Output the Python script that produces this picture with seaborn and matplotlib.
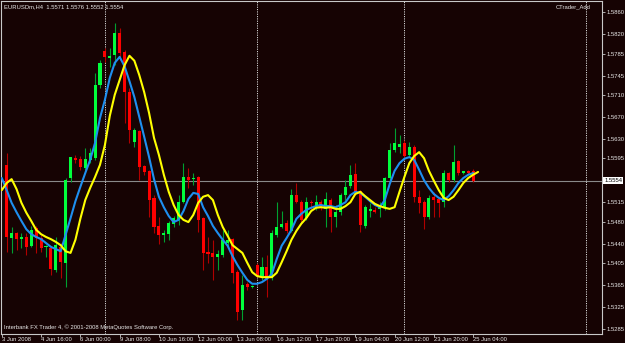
import matplotlib
matplotlib.use("Agg")
import matplotlib.pyplot as plt
import matplotlib.transforms as mtransforms
import seaborn as sns
import numpy as np
import pandas as pd

# ---------------- data (EURUSDm, H4) ----------------
opens = [1.5583, 1.5450, 1.5459, 1.5448, 1.5452, 1.5436, 1.5468, 1.5450, 1.5433, 1.5432,
         1.5392, 1.5434, 1.5405, 1.5559, 1.5595, 1.5594, 1.5577, 1.5592, 1.5595, 1.5728,
         1.5790, 1.5777, 1.5782, 1.5822, 1.5788, 1.5715, 1.5625, 1.5645, 1.5581, 1.5572,
         1.5523, 1.5472, 1.5456, 1.5457, 1.5475, 1.5483, 1.5515, 1.5561, 1.5557, 1.5561,
         1.5486, 1.5425, 1.5423, 1.5416, 1.5419, 1.5441, 1.5448, 1.5388, 1.5319, 1.5367,
         1.5361, 1.5401, 1.5381, 1.5398, 1.5377, 1.5456, 1.5470, 1.5477, 1.5463, 1.5528,
         1.5515, 1.5486, 1.5515, 1.5508, 1.5515, 1.5503, 1.5519, 1.5488, 1.5497, 1.5528,
         1.5545, 1.5566, 1.5535, 1.5472, 1.5499, 1.5501, 1.5503, 1.5504, 1.5559, 1.5610,
         1.5615, 1.5623, 1.5601, 1.5615, 1.5524, 1.5515, 1.5488, 1.5524, 1.5521, 1.5515,
         1.5568, 1.5555, 1.5590, 1.5568, 1.5572, 1.5571]
highs = [1.5604, 1.5470, 1.5461, 1.5459, 1.5459, 1.5472, 1.5472, 1.5456, 1.5437, 1.5434,
         1.5452, 1.5441, 1.5559, 1.5597, 1.5601, 1.5599, 1.5614, 1.5614, 1.5750, 1.5773,
         1.5795, 1.5795, 1.5841, 1.5831, 1.5792, 1.5722, 1.5650, 1.5646, 1.5583, 1.5574,
         1.5528, 1.5488, 1.5465, 1.5481, 1.5490, 1.5528, 1.5586, 1.5577, 1.5568, 1.5563,
         1.5488, 1.5452, 1.5447, 1.5428, 1.5465, 1.5465, 1.5450, 1.5392, 1.5383, 1.5370,
         1.5365, 1.5405, 1.5416, 1.5419, 1.5465, 1.5515, 1.5499, 1.5483, 1.5539, 1.5550,
         1.5519, 1.5524, 1.5519, 1.5528, 1.5519, 1.5534, 1.5523, 1.5510, 1.5532, 1.5555,
         1.5583, 1.5586, 1.5537, 1.5510, 1.5514, 1.5506, 1.5515, 1.5561, 1.5623, 1.5650,
         1.5637, 1.5628, 1.5625, 1.5619, 1.5537, 1.5519, 1.5528, 1.5534, 1.5523, 1.5574,
         1.5570, 1.5619, 1.5592, 1.5572, 1.5574, 1.5576]
lows = [1.5425, 1.5423, 1.5428, 1.5432, 1.5419, 1.5434, 1.5423, 1.5425, 1.5416, 1.5383,
        1.5388, 1.5377, 1.5361, 1.5552, 1.5586, 1.5574, 1.5574, 1.5586, 1.5592, 1.5722,
        1.5770, 1.5761, 1.5764, 1.5773, 1.5659, 1.5623, 1.5615, 1.5555, 1.5565, 1.5488,
        1.5459, 1.5439, 1.5443, 1.5447, 1.5470, 1.5474, 1.5514, 1.5541, 1.5546, 1.5461,
        1.5392, 1.5405, 1.5374, 1.5392, 1.5416, 1.5434, 1.5368, 1.5301, 1.5301, 1.5356,
        1.5359, 1.5380, 1.5374, 1.5343, 1.5374, 1.5452, 1.5468, 1.5459, 1.5461, 1.5514,
        1.5479, 1.5483, 1.5501, 1.5501, 1.5501, 1.5470, 1.5461, 1.5470, 1.5492, 1.5519,
        1.5541, 1.5528, 1.5461, 1.5468, 1.5488, 1.5495, 1.5488, 1.5501, 1.5555, 1.5606,
        1.5604, 1.5597, 1.5597, 1.5515, 1.5495, 1.5466, 1.5485, 1.5488, 1.5488, 1.5506,
        1.5552, 1.5552, 1.5565, 1.5566, 1.5566, 1.5552]
closes = [1.5452, 1.5459, 1.5448, 1.5452, 1.5434, 1.5465, 1.5450, 1.5432, 1.5436, 1.5394,
          1.5437, 1.5407, 1.5555, 1.5597, 1.5592, 1.5579, 1.5594, 1.5604, 1.5728, 1.5768,
          1.5779, 1.5781, 1.5822, 1.5786, 1.5715, 1.5646, 1.5646, 1.5579, 1.5570, 1.5519,
          1.5470, 1.5456, 1.5459, 1.5477, 1.5486, 1.5515, 1.5561, 1.5555, 1.5559, 1.5483,
          1.5423, 1.5421, 1.5416, 1.5421, 1.5447, 1.5447, 1.5387, 1.5316, 1.5365, 1.5361,
          1.5363, 1.5381, 1.5398, 1.5376, 1.5459, 1.5470, 1.5475, 1.5463, 1.5528, 1.5515,
          1.5483, 1.5515, 1.5514, 1.5515, 1.5504, 1.5521, 1.5488, 1.5497, 1.5528, 1.5543,
          1.5565, 1.5532, 1.5474, 1.5506, 1.5503, 1.5497, 1.5510, 1.5559, 1.5610, 1.5623,
          1.5621, 1.5599, 1.5615, 1.5524, 1.5514, 1.5488, 1.5523, 1.5519, 1.5514, 1.5568,
          1.5555, 1.5588, 1.5568, 1.5572, 1.5568, 1.5554]

# moving-average lines, first value belongs to bar -1
ma_start = -1
blue_ma = [1.5559, 1.5537, 1.5514, 1.5497, 1.5481, 1.5466, 1.5457, 1.5452, 1.5448, 1.5441,
           1.5434, 1.5430, 1.5426, 1.5456, 1.5486, 1.5517, 1.5543, 1.5568, 1.5592, 1.5623,
           1.5668, 1.5701, 1.5741, 1.5768, 1.5779, 1.5762, 1.5735, 1.5706, 1.5670, 1.5634,
           1.5597, 1.5557, 1.5525, 1.5506, 1.5490, 1.5479, 1.5483, 1.5499, 1.5521, 1.5532,
           1.5530, 1.5506, 1.5490, 1.5472, 1.5459, 1.5447, 1.5436, 1.5417, 1.5401, 1.5387,
           1.5374, 1.5367, 1.5367, 1.5370, 1.5376, 1.5385, 1.5412, 1.5436, 1.5450, 1.5465,
           1.5485, 1.5494, 1.5501, 1.5505, 1.5508, 1.5510, 1.5508, 1.5508, 1.5506, 1.5510,
           1.5515, 1.5528, 1.5534, 1.5532, 1.5525, 1.5517, 1.5510, 1.5506, 1.5519, 1.5548,
           1.5572, 1.5586, 1.5594, 1.5597, 1.5592, 1.5574, 1.5555, 1.5541, 1.5530, 1.5523,
           1.5519, 1.5526, 1.5537, 1.5550, 1.5559, 1.5565, 1.5568]
yellow_ma = [1.5537, 1.5550, 1.5557, 1.5539, 1.5514, 1.5496, 1.5481, 1.5465, 1.5457, 1.5452,
             1.5448, 1.5443, 1.5437, 1.5426, 1.5423, 1.5447, 1.5485, 1.5519, 1.5541, 1.5561,
             1.5583, 1.5619, 1.5672, 1.5710, 1.5737, 1.5764, 1.5781, 1.5772, 1.5746, 1.5715,
             1.5677, 1.5632, 1.5601, 1.5565, 1.5534, 1.5510, 1.5492, 1.5483, 1.5479, 1.5492,
             1.5514, 1.5525, 1.5528, 1.5519, 1.5492, 1.5470, 1.5454, 1.5437, 1.5430, 1.5423,
             1.5405, 1.5388, 1.5381, 1.5379, 1.5379, 1.5379, 1.5387, 1.5406, 1.5426, 1.5447,
             1.5463, 1.5476, 1.5486, 1.5499, 1.5505, 1.5506, 1.5505, 1.5506, 1.5503, 1.5503,
             1.5508, 1.5515, 1.5530, 1.5534, 1.5526, 1.5519, 1.5512, 1.5508, 1.5505, 1.5503,
             1.5506, 1.5534, 1.5561, 1.5586, 1.5599, 1.5606, 1.5595, 1.5572, 1.5554, 1.5537,
             1.5523, 1.5519, 1.5525, 1.5537, 1.5550, 1.5559, 1.5565, 1.5570]

time_labels = ["3 Jun 2008", "4 Jun 16:00", "6 Jun 00:00", "9 Jun 08:00", "10 Jun 16:00",
               "12 Jun 00:00", "13 Jun 08:00", "16 Jun 12:00", "17 Jun 20:00", "19 Jun 04:00",
               "20 Jun 12:00", "23 Jun 20:00", "25 Jun 04:00"]
first_label_bar = -1
bars_per_label = 8
price_ticks = [1.5860, 1.5820, 1.5785, 1.5745, 1.5710, 1.5670, 1.5630, 1.5595,
               1.5515, 1.5480, 1.5440, 1.5405, 1.5365, 1.5325, 1.5285]
last_price = 1.5554
separator_bars = [20, 51, 81, 118]
symbol_title = "EURUSDm,H4  1.5571 1.5576 1.5552 1.5554"
indicator_name = "CTrader_Add"
footer = "Interbank FX Trader 4, \u00a9 2001-2008 MetaQuotes Software Corp."

# ---------------- style ----------------
BG = "#160303"
FG = "#e8e8e8"
FS = 4.2
sns.set_theme(style="dark")
plt.rcParams["font.family"] = ["Liberation Sans", "DejaVu Sans"]
plt.rcParams["axes.facecolor"] = BG
plt.rcParams["figure.facecolor"] = BG

W, H = 625, 343
fig = plt.figure(figsize=(W / 100, H / 100), dpi=100, facecolor=BG)
left, right, top, bottom = 1.5, 601.7, 1.3, 333.5
ax = fig.add_axes([left / W, 1 - bottom / H, (right - left) / W, (bottom - top) / H])
ax.set_facecolor(BG)

df = pd.DataFrame({"open": opens, "high": highs, "low": lows, "close": closes})
df["bar"] = np.arange(len(df))
up = df["close"] >= df["open"]
body_col = np.where(up, "#00ff3c", "#ff0000")
wick_col = np.where(up, "#00a030", "#b00000")

ax.vlines(df["bar"], df["low"], df["high"], colors=wick_col, linewidth=0.8, zorder=2)
body_bottom = np.minimum(df["open"], df["close"])
body_h = np.maximum((df["open"] - df["close"]).abs(), 0.00012)
ax.bar(df["bar"], body_h, bottom=body_bottom, width=0.62, color=body_col,
       linewidth=0, zorder=3)

blue_df = pd.DataFrame({"bar": np.arange(ma_start, ma_start + len(blue_ma)), "v": blue_ma})
yel_df = pd.DataFrame({"bar": np.arange(ma_start, ma_start + len(yellow_ma)), "v": yellow_ma})
sns.lineplot(data=blue_df, x="bar", y="v", color="#1e8ff0", linewidth=1.5, ax=ax,
             estimator=None, zorder=4)
sns.lineplot(data=yel_df, x="bar", y="v", color="#ffff00", linewidth=1.5, ax=ax,
             estimator=None, zorder=4)

ax.axhline(last_price, color="#8a8a8a", linewidth=0.8, zorder=1)
for s in separator_bars:
    ax.axvline(s, color="#d8d8d8", linewidth=0.7, linestyle=(0, (1.2, 1.2)), zorder=1)

bar_w = 4.91  # pixels per bar
x0_bar = (left - 6.7) / bar_w
x1_bar = (right - 6.7) / bar_w
ax.set_xlim(x0_bar, x1_bar)


def px2price(y):
    return 1.58823 - 0.0001816 * y


ax.set_ylim(px2price(bottom), px2price(top))
ax.set_xlabel("")
ax.set_ylabel("")
ax.grid(False)

# y axis on the right
ax.yaxis.tick_right()
ax.set_yticks(price_ticks)
ax.set_yticklabels([f"{p:.4f}" for p in price_ticks])
ax.tick_params(axis="y", direction="out", length=2.2, width=0.6, color="#c8c8c8",
               labelsize=FS, labelcolor=FG, pad=1.0, right=True, left=False)
# x axis
xt = [first_label_bar + bars_per_label * k for k in range(len(time_labels))]
ax.set_xticks(xt)
ax.set_xticklabels(time_labels)
for lbl in ax.get_xticklabels():
    lbl.set_ha("left")
ax.tick_params(axis="x", direction="out", length=2.0, width=0.6, color="#c8c8c8",
               labelsize=FS, labelcolor=FG, pad=0.2, bottom=True)
for sp in ax.spines.values():
    sp.set_visible(True)
    sp.set_color("#c8c8c8")
    sp.set_linewidth(0.8)

# last price box
trans = mtransforms.blended_transform_factory(ax.transAxes, ax.transData)
ax.text(1.004, last_price, f"{last_price:.4f}", transform=trans, ha="left", va="center",
        fontsize=FS, color="black", clip_on=False,
        bbox=dict(facecolor="white", edgecolor="none", pad=0.8))

fig.text(4 / W, 1 - 7 / H, symbol_title, ha="left", va="center", fontsize=FS, color=FG)
fig.text(556 / W, 1 - 7 / H, indicator_name, ha="left", va="center", fontsize=FS, color=FG)
fig.text(3.5 / W, 1 - 327 / H, footer, ha="left", va="center", fontsize=FS, color=FG)

fig.savefig("out.png", dpi=100, facecolor=BG)
